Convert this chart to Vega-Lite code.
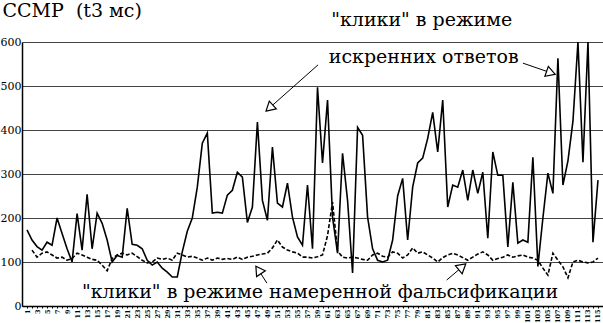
{
  "$schema": "https://vega.github.io/schema/vega-lite/v6.json",
  "width": 581,
  "height": 264,
  "autosize": {"type": "none"},
  "padding": {"left": 22, "top": 42, "right": 0, "bottom": 17},
  "background": "white",
  "config": {"view": {"stroke": null}, "axis": {"labelOverlap": false}},
  "datasets": {
    "honest": [
      {"i":1,"v":173},{"i":2,"v":150},{"i":3,"v":135},{"i":4,"v":127},{"i":5,"v":145},{"i":6,"v":138},{"i":7,"v":200},{"i":8,"v":165},{"i":9,"v":130},{"i":10,"v":100},
      {"i":11,"v":210},{"i":12,"v":127},{"i":13,"v":254},{"i":14,"v":130},{"i":15,"v":211},{"i":16,"v":188},{"i":17,"v":150},{"i":18,"v":100},{"i":19,"v":115},{"i":20,"v":111},
      {"i":21,"v":222},{"i":22,"v":140},{"i":23,"v":138},{"i":24,"v":130},{"i":25,"v":104},{"i":26,"v":93},{"i":27,"v":100},{"i":28,"v":86},{"i":29,"v":77},{"i":30,"v":66},
      {"i":31,"v":66},{"i":32,"v":123},{"i":33,"v":170},{"i":34,"v":200},{"i":35,"v":270},{"i":36,"v":370},{"i":37,"v":393},{"i":38,"v":211},{"i":39,"v":213},{"i":40,"v":211},
      {"i":41,"v":252},{"i":42,"v":263},{"i":43,"v":304},{"i":44,"v":293},{"i":45,"v":190},{"i":46,"v":225},{"i":47,"v":418},{"i":48,"v":240},{"i":49,"v":195},{"i":50,"v":361},
      {"i":51,"v":234},{"i":52,"v":225},{"i":53,"v":279},{"i":54,"v":202},{"i":55,"v":157},{"i":56,"v":138},{"i":57,"v":275},{"i":58,"v":130},{"i":59,"v":497},{"i":60,"v":325},
      {"i":61,"v":468},{"i":62,"v":202},{"i":63,"v":120},{"i":64,"v":347},{"i":65,"v":240},{"i":66,"v":75},{"i":67,"v":406},{"i":68,"v":388},{"i":69,"v":202},{"i":70,"v":130},
      {"i":71,"v":104},{"i":72,"v":100},{"i":73,"v":104},{"i":74,"v":150},{"i":75,"v":250},{"i":76,"v":290},{"i":77,"v":150},{"i":78,"v":270},{"i":79,"v":325},{"i":80,"v":336},
      {"i":81,"v":381},{"i":82,"v":440},{"i":83,"v":350},{"i":84,"v":468},{"i":85,"v":225},{"i":86,"v":275},{"i":87,"v":270},{"i":88,"v":309},{"i":89,"v":240},{"i":90,"v":309},
      {"i":91,"v":256},{"i":92,"v":304},{"i":93,"v":154},{"i":94,"v":350},{"i":95,"v":297},{"i":96,"v":297},{"i":97,"v":134},{"i":98,"v":281},{"i":99,"v":143},{"i":100,"v":150},
      {"i":101,"v":145},{"i":102,"v":338},{"i":103,"v":90},{"i":104,"v":200},{"i":105,"v":302},{"i":106,"v":256},{"i":107,"v":563},{"i":108,"v":275},{"i":109,"v":330},{"i":110,"v":420},
      {"i":111,"v":600},{"i":112,"v":327},{"i":113,"v":600},{"i":114,"v":145},{"i":115,"v":286}
    ],
    "fake": [
      {"i":2,"v":127},{"i":3,"v":111},{"i":4,"v":120},{"i":5,"v":123},{"i":6,"v":116},{"i":7,"v":109},{"i":8,"v":111},{"i":9,"v":104},{"i":10,"v":108},
      {"i":11,"v":120},{"i":12,"v":116},{"i":13,"v":111},{"i":14,"v":106},{"i":15,"v":104},{"i":16,"v":93},{"i":17,"v":80},{"i":18,"v":108},{"i":19,"v":116},{"i":20,"v":120},
      {"i":21,"v":116},{"i":22,"v":120},{"i":23,"v":112},{"i":24,"v":104},{"i":25,"v":98},{"i":26,"v":100},{"i":27,"v":109},{"i":28,"v":106},{"i":29,"v":109},{"i":30,"v":104},
      {"i":31,"v":120},{"i":32,"v":116},{"i":33,"v":111},{"i":34,"v":113},{"i":35,"v":109},{"i":36,"v":104},{"i":37,"v":109},{"i":38,"v":104},{"i":39,"v":109},{"i":40,"v":106},
      {"i":41,"v":108},{"i":42,"v":106},{"i":43,"v":111},{"i":44,"v":106},{"i":45,"v":111},{"i":46,"v":113},{"i":47,"v":116},{"i":48,"v":118},{"i":49,"v":120},{"i":50,"v":132},
      {"i":51,"v":150},{"i":52,"v":134},{"i":53,"v":127},{"i":54,"v":123},{"i":55,"v":120},{"i":56,"v":111},{"i":57,"v":111},{"i":58,"v":109},{"i":59,"v":112},{"i":60,"v":116},
      {"i":61,"v":160},{"i":62,"v":236},{"i":63,"v":125},{"i":64,"v":111},{"i":65,"v":109},{"i":66,"v":111},{"i":67,"v":109},{"i":68,"v":106},{"i":69,"v":104},{"i":70,"v":116},
      {"i":71,"v":120},{"i":72,"v":113},{"i":73,"v":111},{"i":74,"v":123},{"i":75,"v":120},{"i":76,"v":109},{"i":77,"v":116},{"i":78,"v":132},{"i":79,"v":120},{"i":80,"v":123},
      {"i":81,"v":116},{"i":82,"v":109},{"i":83,"v":100},{"i":84,"v":110},{"i":85,"v":116},{"i":86,"v":120},{"i":87,"v":116},{"i":88,"v":110},{"i":89,"v":104},{"i":90,"v":111},
      {"i":91,"v":118},{"i":92,"v":123},{"i":93,"v":116},{"i":94,"v":104},{"i":95,"v":108},{"i":96,"v":111},{"i":97,"v":116},{"i":98,"v":111},{"i":99,"v":114},{"i":100,"v":116},
      {"i":101,"v":111},{"i":102,"v":109},{"i":103,"v":104},{"i":104,"v":86},{"i":105,"v":70},{"i":106,"v":120},{"i":107,"v":104},{"i":108,"v":89},{"i":109,"v":64},{"i":110,"v":100},
      {"i":111,"v":104},{"i":112,"v":100},{"i":113,"v":98},{"i":114,"v":100},{"i":115,"v":109}
    ],
    "labels": [
      {"t":"\"клики\" в режиме","x":79.8,"y":650},
      {"t":"искренних ответов","x":80.2,"y":566},
      {"t":"\"клики\" в режиме намеренной фальсификации","x":59.5,"y":31}
    ],
    "arrows": [
      {"a":"a1","x":59.1,"y":548,"x2":49.4,"y2":450},
      {"a":"a2","x":100.0,"y":552,"x2":105.6,"y2":530},
      {"a":"a3","x":48.9,"y":52,"x2":47.2,"y2":82},
      {"a":"a4","x":84.8,"y":59,"x2":87.9,"y2":89}
    ]
  },
  "encoding": {
    "x": {"type": "quantitative", "scale": {"domain": [0, 116], "nice": false, "zero": false},
      "axis": {"title": null, "values": [1,2,3,4,5,6,7,8,9,10,11,12,13,14,15,16,17,18,19,20,21,22,23,24,25,26,27,28,29,30,31,32,33,34,35,36,37,38,39,40,41,42,43,44,45,46,47,48,49,50,51,52,53,54,55,56,57,58,59,60,61,62,63,64,65,66,67,68,69,70,71,72,73,74,75,76,77,78,79,80,81,82,83,84,85,86,87,88,89,90,91,92,93,94,95,96,97,98,99,100,101,102,103,104,105,106,107,108,109,110,111,112,113,114,115],
        "labelExpr": "datum.value % 2 == 1 ? datum.label : ''", "labelAngle": 270, "labelFontSize": 6.5, "labelFontWeight": "bold", "labelFont": "DejaVu Serif", "labelColor": "black", "labelPadding": 1, "labelOverlap": false, "labelFlush": false, "labelBound": false,
        "tickSize": 2, "tickColor": "black", "domainColor": "black", "domainWidth": 1.5, "grid": false}},
    "y": {"type": "quantitative", "scale": {"domain": [0, 600], "nice": false},
      "axis": {"values": [0,100,200,300,400,500,600], "labelFont": "DejaVu Serif", "labelFontSize": 11, "labelColor": "black", "labelPadding": 1, "tickSize": 0, "domainColor": "black", "domainWidth": 1.5,
        "grid": true, "gridColor": "#444", "gridWidth": 1, "gridOpacity": 1,
        "title": "CCMP\u00a0\u00a0(t3 мс)", "titleAngle": 0, "titleAlign": "left", "titleBaseline": "top", "titleX": -20, "titleY": -41, "titleFont": "DejaVu Serif", "titleFontSize": 19, "titleFontWeight": "normal", "titleColor": "black"}}
  },
  "layer": [
    {
      "mark": {"type": "rule", "color": "#333", "strokeWidth": 2},
      "encoding": {"y": {"datum": 500}}
    },
    {
      "mark": {"type": "rect", "color": "white"},
      "encoding": {"x": {"datum": 58}, "x2": {"datum": 102.4}, "y": {"datum": 580}, "y2": {"datum": 620}}
    },
    {
      "data": {"name": "fake"},
      "mark": {"type": "line", "color": "black", "strokeWidth": 1.6, "strokeDash": [4, 2]},
      "encoding": {"x": {"field": "i"}, "y": {"field": "v"}}
    },
    {
      "data": {"name": "honest"},
      "mark": {"type": "line", "color": "black", "strokeWidth": 1.6},
      "encoding": {"x": {"field": "i"}, "y": {"field": "v"}}
    },
    {
      "data": {"name": "labels"},
      "mark": {"type": "text", "font": "DejaVu Serif", "fontSize": 19, "color": "black", "align": "center", "baseline": "middle"},
      "encoding": {"x": {"field": "x"}, "y": {"field": "y"}, "text": {"field": "t"}}
    },
    {
      "data": {"name": "arrows"},
      "mark": {"type": "rule", "color": "black", "strokeWidth": 1},
      "encoding": {"x": {"field": "x"}, "y": {"field": "y"}, "x2": {"field": "x2"}, "y2": {"field": "y2"}}
    },
    {
      "data": {"name": "arrows"},
      "transform": [{"filter": "datum.a == 'a1'"}],
      "mark": {"type": "point", "shape": "triangle-up", "filled": true, "fill": "white", "stroke": "black", "strokeWidth": 1.2, "size": 110, "angle": 228, "opacity": 1},
      "encoding": {"x": {"field": "x2"}, "y": {"field": "y2"}}
    },
    {
      "data": {"name": "arrows"},
      "transform": [{"filter": "datum.a == 'a2'"}],
      "mark": {"type": "point", "shape": "triangle-up", "filled": true, "fill": "white", "stroke": "black", "strokeWidth": 1.2, "size": 110, "angle": 109, "opacity": 1},
      "encoding": {"x": {"field": "x2"}, "y": {"field": "y2"}}
    },
    {
      "data": {"name": "arrows"},
      "transform": [{"filter": "datum.a == 'a3'"}],
      "mark": {"type": "point", "shape": "triangle-up", "filled": true, "fill": "white", "stroke": "black", "strokeWidth": 1.2, "size": 110, "angle": 326, "opacity": 1},
      "encoding": {"x": {"field": "x2"}, "y": {"field": "y2"}}
    },
    {
      "data": {"name": "arrows"},
      "transform": [{"filter": "datum.a == 'a4'"}],
      "mark": {"type": "point", "shape": "triangle-up", "filled": true, "fill": "white", "stroke": "black", "strokeWidth": 1.2, "size": 110, "angle": 50, "opacity": 1},
      "encoding": {"x": {"field": "x2"}, "y": {"field": "y2"}}
    }
  ]
}
